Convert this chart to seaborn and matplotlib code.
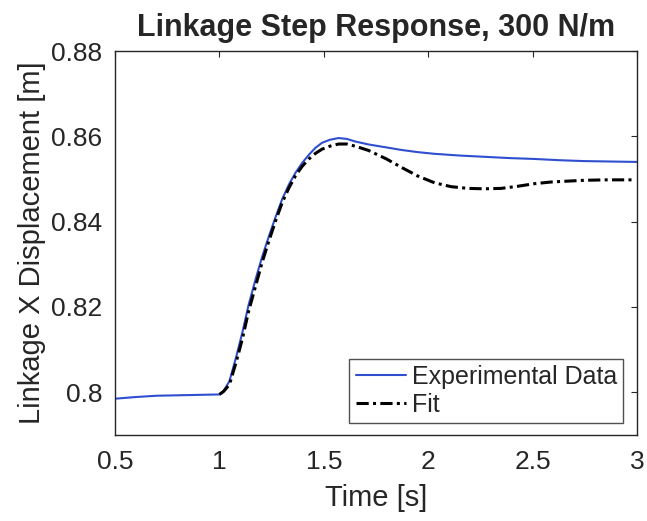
import pandas as pd
import matplotlib
matplotlib.use("Agg")
import matplotlib.pyplot as plt
import seaborn as sns

# ==============================
# DATA
# ==============================
exp_time = [0.5, 0.6, 0.7, 0.8, 0.9, 1.0, 1.02, 1.048, 1.08, 1.111, 1.14, 1.174,
            1.205, 1.238, 1.27, 1.301, 1.333, 1.365, 1.397, 1.429, 1.46, 1.492,
            1.53, 1.571, 1.61, 1.65, 1.714, 1.8, 1.873, 1.95, 2.031, 2.15, 2.27,
            2.39, 2.508, 2.63, 2.746, 2.87, 3.0]
exp_disp = [0.7985, 0.7989, 0.7992, 0.7993, 0.7994, 0.7995, 0.8003, 0.8026, 0.8082,
            0.8142, 0.8205, 0.8266, 0.8318, 0.8367, 0.8412, 0.8453, 0.8487, 0.8515,
            0.8538, 0.8557, 0.8573, 0.8585, 0.8592, 0.8596, 0.8594, 0.8588, 0.8581,
            0.8574, 0.8568, 0.8563, 0.8559, 0.8555, 0.8552, 0.8549, 0.8547, 0.8544,
            0.8542, 0.8541, 0.8540]

fit_time = [1.0, 1.02, 1.048, 1.08, 1.111, 1.14, 1.174, 1.205, 1.238, 1.27, 1.301,
            1.333, 1.365, 1.397, 1.429, 1.46, 1.492, 1.53, 1.571, 1.61, 1.65, 1.714,
            1.8, 1.873, 1.95, 2.031, 2.11, 2.19, 2.27, 2.35, 2.43, 2.508, 2.59,
            2.667, 2.75, 2.85, 2.984]
fit_disp = [0.7995, 0.8002, 0.8018, 0.8070, 0.8127, 0.8190, 0.8250, 0.8305, 0.8356,
            0.8403, 0.8445, 0.8479, 0.8508, 0.8530, 0.8547, 0.8560, 0.8570, 0.8577,
            0.8582, 0.8582, 0.8577, 0.8567, 0.8547, 0.8527, 0.8507, 0.8491, 0.8482,
            0.8478, 0.8477, 0.8478, 0.8483, 0.8489, 0.8493, 0.8495, 0.8497, 0.8498,
            0.8498]

x_ticks = [0.5, 1, 1.5, 2, 2.5, 3]
y_ticks = [0.80, 0.82, 0.84, 0.86, 0.88]
y_tick_labels = ["0.8", "0.82", "0.84", "0.86", "0.88"]

exp_df = pd.DataFrame({"t": exp_time, "x": exp_disp})
fit_df = pd.DataFrame({"t": fit_time, "x": fit_disp})

# ==============================
# PLOT
# ==============================
sns.set_style("white")
plt.rcParams["font.family"] = ["Liberation Sans", "DejaVu Sans"]

fig = plt.figure(figsize=(6.47, 5.21), dpi=100)
ax = fig.add_axes([0.1777, 0.1651, 0.8068, 0.737])

sns.lineplot(data=exp_df, x="t", y="x", ax=ax, color="#2f4fd0", linewidth=1.5,
             label="Experimental Data")
sns.lineplot(data=fit_df, x="t", y="x", ax=ax, color="black", linewidth=2.2,
             linestyle=(0, (4, 1.4, 1, 1.4)), label="Fit")

ax.set_xlim(0.5, 3)
ax.set_ylim(0.79, 0.88)
ax.set_xticks(x_ticks)
ax.set_xticklabels([f"{v:g}" for v in x_ticks])
ax.set_yticks(y_ticks)
ax.set_yticklabels(y_tick_labels)

ax.tick_params(direction="in", length=4, width=0.8, color="#262626",
               top=True, right=True, labelsize=19)
ax.tick_params(axis="x", pad=11)
ax.tick_params(axis="y", pad=9)
for s in ax.spines.values():
    s.set_color("#262626")
    s.set_linewidth(1.0)

ax.set_xlabel("Time [s]", fontsize=21, labelpad=7)
ax.set_ylabel("Linkage X Displacement [m]", fontsize=21, labelpad=4)
ax.set_title("Linkage Step Response, 300 N/m", fontsize=22, fontweight="bold", pad=11)

leg = ax.legend(loc="lower right", bbox_to_anchor=(0.974, 0.031), fontsize=18,
                frameon=True, fancybox=False, edgecolor="#262626",
                handlelength=2.0, handletextpad=0.25, borderpad=0.25,
                labelspacing=0.15, borderaxespad=0)
leg.get_frame().set_linewidth(1.0)

fig.savefig("out.png", dpi=100)
plt.close(fig)
